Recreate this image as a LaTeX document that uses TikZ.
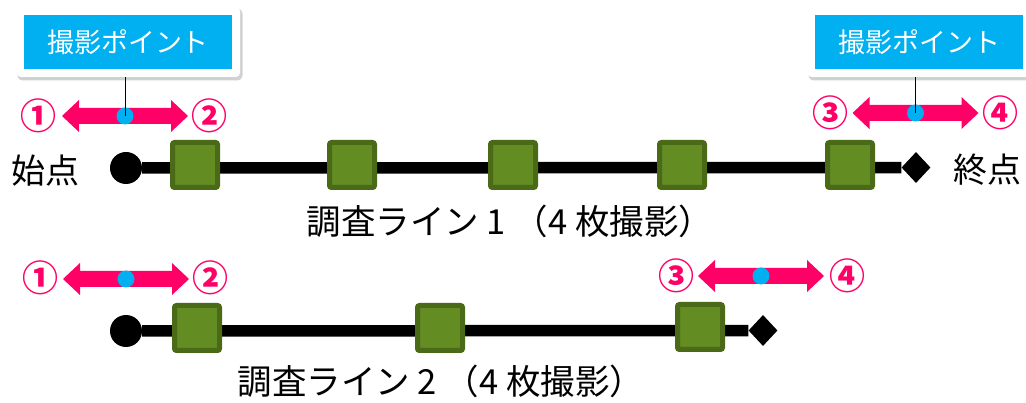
\documentclass[tikz,border=0pt]{standalone}
\usepackage{fontspec}
\setmainfont{Noto Sans CJK JP}
\usetikzlibrary{shapes.geometric}
\definecolor{pinkc}{HTML}{FF0066}
\definecolor{cyanc}{HTML}{00B0F0}
\definecolor{sqfill}{HTML}{638C23}
\definecolor{sqdraw}{HTML}{4B6A17}
\tikzset{
  sqbox/.style={rectangle, rounded corners=2pt, fill=sqfill, draw=sqdraw, line width=5pt, minimum size=45pt, inner sep=0pt},
  startdot/.style={circle, fill=black, minimum size=32pt, inner sep=0pt},
  enddia/.style={diamond, fill=black, minimum width=29pt, minimum height=31pt, inner sep=0pt},
  mainline/.style={line width=11.5pt},
  whitebox/.style={rectangle, rounded corners=4pt, fill=white, minimum width=223pt, minimum height=70pt, inner sep=0pt},
  shadowbox/.style={rectangle, rounded corners=5pt, fill=black!18, minimum width=225pt, minimum height=72pt, inner sep=0pt},
  bluebox/.style={rectangle, fill=cyanc, text=white, minimum width=208pt, minimum height=54pt, inner sep=0pt, font=\fontsize{27}{27}\selectfont},
  cdot/.style={circle, fill=cyanc, minimum size=17pt, inner sep=0pt},
  numlab/.style={text=pinkc, font=\fontsize{36}{36}\selectfont\bfseries, inner sep=0pt},
  endlab/.style={font=\fontsize{34}{34}\selectfont, inner sep=0pt},
  titlelab/.style={font=\fontsize{34.5}{34.5}\selectfont, inner sep=0pt},
  callout/.style={line width=1pt, black},
  darr/.pic={\fill[pinkc] (-63,0) -- (-46,-16) -- (-46,-8) -- (46,-8) -- (46,-16) -- (63,0) -- (46,16) -- (46,8) -- (-46,8) -- (-46,16) -- cycle;}
}
\begin{document}
\begin{tikzpicture}[x=1pt,y=-1pt]
\useasboundingbox (0,0) rectangle (1026,403);
\clip (0,0) rectangle (1026,403);
\fill[white] (0,0) rectangle (1026,403);

% ---------- callout boxes ----------
\node[shadowbox] at (130,44.5) {};
\node[whitebox] (w1) at (128.5,42) {};
\node[bluebox] (b1) at (128,42) {撮影ポイント};
\node[shadowbox] at (921,44.5) {};
\node[whitebox] (w2) at (919,42) {};
\node[bluebox] (b2) at (919,42) {撮影ポイント};

% ---------- line 1 ----------
\pic at (125,116) {darr};
\node[cdot] (d1) at (125,116) {};
\draw[callout] (d1 |- w1.south) -- (d1.center);
\node[numlab] (n1) at (38,116) {①};
\node[numlab] (n2) at (209,116) {②};

\pic at (915.5,113) {darr};
\node[cdot] (d2) at (915.5,113) {};
\draw[callout] (d2 |- w2.south) -- (d2.center);
\node[numlab] (n3) at (830,113) {③};
\node[numlab] (n4) at (1000,113) {④};

\node[endlab] (start1) at (46,171) {始点};
\node[endlab] (end1) at (987,170) {終点};

\node[startdot] (s1) at (126,168) {};
\node[enddia] (e1) at (916,167.5) {};
\draw[mainline] (s1) -- (e1);
\node[sqbox] (q11) at (195,165) {};
\node[sqbox] (q12) at (352,165) {};
\node[sqbox] (q13) at (513,165) {};
\node[sqbox] (q14) at (682,165) {};
\node[sqbox] (q15) at (850,165) {};

\node[titlelab] (t1) at (510,221) {調査ライン 1 （4 枚撮影）};

% ---------- line 2 ----------
\pic at (126,279) {darr};
\node[cdot] (d3) at (126,279) {};
\node[numlab] (n5) at (40,278) {①};
\node[numlab] (n6) at (210,278) {②};

\pic at (761,276) {darr};
\node[cdot] (d4) at (761,276) {};
\node[numlab] (n7) at (676,276) {③};
\node[numlab] (n8) at (847,276) {④};

\node[startdot] (s2) at (126,331) {};
\node[enddia] (e2) at (763,330.5) {};
\draw[mainline] (s2) -- (e2);
\node[sqbox] (q21) at (197,328) {};
\node[sqbox] (q22) at (440,328) {};
\node[sqbox] (q23) at (700,327) {};

\node[titlelab] (t2) at (441,381) {調査ライン 2 （4 枚撮影）};
\end{tikzpicture}
\end{document}
